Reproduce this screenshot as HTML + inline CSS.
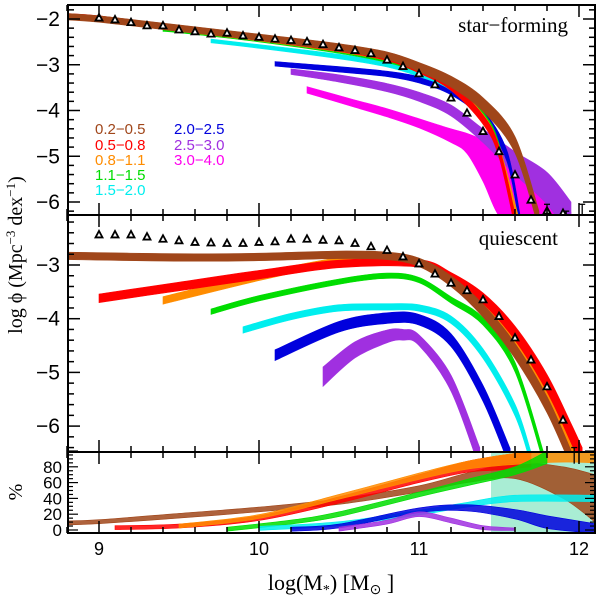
<!DOCTYPE html>
<html><head><meta charset="utf-8"><style>
body{margin:0;background:#fff}
svg{display:block}
text{font-family:"Liberation Sans",sans-serif}
.ser{font-family:"Liberation Serif",serif}
</style></head><body>
<svg id="chart" width="600" height="598" viewBox="0 0 600 598" xmlns="http://www.w3.org/2000/svg">
<defs>
<clipPath id="c1"><rect x="68" y="5" width="527" height="210"/></clipPath>
<clipPath id="c2"><rect x="68" y="215" width="527" height="237"/></clipPath>
<clipPath id="c3"><rect x="68" y="452" width="527" height="81"/></clipPath>
</defs>
<g id="g1" clip-path="url(#c1)"></g>
<g id="g2" clip-path="url(#c2)"></g>
<g id="g3" clip-path="url(#c3)"></g>
<g id="axes"></g>
<text class="ser" x="568" y="32" text-anchor="end" font-size="21">star−forming</text>
<text class="ser" x="558" y="245" text-anchor="end" font-size="21">quiescent</text>
<g font-size="15">
<text x="95" y="134" fill="#a0461a">0.2−0.5</text>
<text x="95" y="150" fill="#ff0000">0.5−0.8</text>
<text x="95" y="165" fill="#ff8c00">0.8−1.1</text>
<text x="95" y="180" fill="#00dd00">1.1−1.5</text>
<text x="95" y="195" fill="#00eeee">1.5−2.0</text>
<text x="174" y="134" fill="#0000dd">2.0−2.5</text>
<text x="174" y="150" fill="#a030e0">2.5−3.0</text>
<text x="174" y="165" fill="#ff00ee">3.0−4.0</text>
</g>
<text class="ser" transform="translate(22,255) rotate(-90)" text-anchor="middle" font-size="20">log ϕ (Mpc<tspan font-size="13" dy="-7">−3</tspan><tspan dy="7"> dex</tspan><tspan font-size="13" dy="-7">−1</tspan><tspan dy="7">)</tspan></text>
<text class="ser" transform="translate(22,492) rotate(-90)" text-anchor="middle" font-size="20">%</text>
<text class="ser" x="331" y="590" text-anchor="middle" font-size="22">log(M<tspan font-size="14" dy="4">*</tspan><tspan dy="-4">)  [M</tspan><tspan font-size="14" dy="4">⊙</tspan><tspan dy="-4"> ]</tspan></text>
</svg>
<script>
const NS="http://www.w3.org/2000/svg";
const colors=["#a0461a","#ff0000","#ff8c00","#00dd00","#00eeee","#0000dd","#a030e0","#ff00ee"];
const binNames=["0.2-0.5","0.5-0.8","0.8-1.1","1.1-1.5","1.5-2.0","2.0-2.5","2.5-3.0","3.0-4.0"];
// star-forming bands: mass, centre, half-width
const sfX=[
[8.8,9.0,9.5,10.0,10.5,10.8,11.0,11.2,11.4,11.6,11.75],
[8.8,9.0,9.5,10.0,10.5,10.8,11.0,11.2,11.4,11.5,11.6],
[9.0,9.5,10.0,10.5,10.8,11.0,11.2,11.4,11.5,11.62],
[9.4,9.5,10.0,10.5,10.8,11.0,11.2,11.4,11.5,11.6],
[9.7,10.0,10.5,10.8,11.0,11.2,11.4,11.5,11.62],
[10.1,10.5,10.8,11.0,11.2,11.4,11.55,11.63],
[10.2,10.5,10.8,11.0,11.2,11.4,11.6,11.8,11.95],
[10.3,10.6,10.8,11.0,11.2,11.3,11.4,11.5,11.6,11.8,11.95]];
const sfY=[
[-1.95,-2.0,-2.2,-2.4,-2.62,-2.8,-3.05,-3.37,-3.87,-4.75,-6.4],
[-1.93,-1.98,-2.2,-2.42,-2.66,-2.85,-3.12,-3.48,-4.2,-4.9,-6.4],
[-2.0,-2.22,-2.43,-2.67,-2.86,-3.1,-3.45,-4.15,-4.85,-6.4],
[-2.22,-2.25,-2.45,-2.7,-2.9,-3.12,-3.45,-4.1,-4.8,-6.4],
[-2.48,-2.6,-2.82,-3.0,-3.2,-3.5,-4.2,-4.9,-6.4],
[-2.98,-3.1,-3.2,-3.33,-3.58,-4.1,-5.0,-6.4],
[-3.15,-3.3,-3.5,-3.7,-4.0,-4.55,-5.15,-5.7,-6.4],
[-3.55,-3.85,-4.05,-4.28,-4.55,-4.72,-5.1,-5.6,-5.7,-5.9,-6.3]];
const sfW=[
[0.07,0.07,0.07,0.07,0.08,0.08,0.1,0.12,0.15,0.18,0.2],
[0.05,0.05,0.05,0.05,0.05,0.06,0.06,0.08,0.1,0.12,0.15],
[0.05,0.05,0.05,0.05,0.05,0.05,0.06,0.07,0.08,0.1],
[0.05,0.05,0.05,0.05,0.05,0.05,0.06,0.07,0.08,0.1],
[0.04,0.04,0.05,0.05,0.06,0.06,0.07,0.08,0.1],
[0.05,0.06,0.06,0.07,0.08,0.1,0.12,0.15],
[0.06,0.08,0.09,0.1,0.12,0.15,0.25,0.35,0.4],
[0.07,0.08,0.09,0.1,0.15,0.22,0.45,0.7,0.65,0.4,0.08]];
const sfTriX=[9.0,9.1,9.2,9.3,9.4,9.5,9.6,9.7,9.8,9.9,10.0,10.1,10.2,10.3,10.4,10.5,10.6,10.7,10.8,10.9,11.0,11.1,11.2,11.3,11.4,11.5,11.6,11.7,11.8,11.9];
const sfTriY=[-1.98,-2.02,-2.08,-2.15,-2.15,-2.24,-2.28,-2.33,-2.31,-2.37,-2.4,-2.44,-2.47,-2.5,-2.56,-2.63,-2.69,-2.76,-2.9,-3.04,-3.2,-3.44,-3.73,-4.06,-4.46,-4.9,-5.41,-5.96,-6.2,-6.25];
// quiescent bands
const qX=[
[8.8,9.5,10.0,10.5,10.8,11.0,11.2,11.4,11.6,11.8,11.95],
[9.0,9.5,10.0,10.5,11.0,11.2,11.4,11.6,11.8,11.95,12.02],
[9.4,10.0,10.5,10.8,11.0,11.2,11.4,11.6,11.8,11.97],
[9.7,10.0,10.5,10.8,11.0,11.2,11.4,11.6,11.78],
[9.9,10.2,10.5,10.8,11.0,11.2,11.4,11.6,11.7],
[10.1,10.5,10.8,11.0,11.2,11.4,11.57],
[10.4,10.6,10.8,10.9,11.0,11.2,11.38]];
const qY=[
[-2.83,-2.86,-2.85,-2.81,-2.83,-2.95,-3.3,-3.85,-4.6,-5.6,-6.6],
[-3.62,-3.4,-3.18,-2.98,-2.97,-3.22,-3.62,-4.27,-5.2,-6.13,-6.6],
[-3.66,-3.22,-2.92,-2.85,-2.95,-3.3,-3.82,-4.5,-5.5,-6.6],
[-3.87,-3.62,-3.31,-3.2,-3.28,-3.65,-4.05,-4.9,-6.6],
[-4.21,-3.96,-3.8,-3.78,-3.8,-4.02,-4.65,-5.7,-6.6],
[-4.68,-4.15,-3.99,-4.02,-4.4,-5.39,-6.6],
[-5.08,-4.58,-4.33,-4.3,-4.4,-5.2,-6.6]];
const qW=[
[0.07,0.07,0.07,0.07,0.07,0.08,0.1,0.12,0.14,0.15,0.15],
[0.08,0.08,0.08,0.07,0.07,0.08,0.1,0.13,0.16,0.18,0.2],
[0.07,0.07,0.06,0.06,0.07,0.08,0.1,0.12,0.14,0.15],
[0.05,0.05,0.05,0.05,0.05,0.06,0.07,0.09,0.1],
[0.06,0.06,0.06,0.06,0.06,0.07,0.09,0.11,0.12],
[0.1,0.1,0.1,0.1,0.12,0.15,0.18],
[0.18,0.15,0.12,0.1,0.1,0.15,0.2]];
const qTriX=[9.0,9.1,9.2,9.3,9.4,9.5,9.6,9.7,9.8,9.9,10.0,10.1,10.2,10.3,10.4,10.5,10.6,10.7,10.8,10.9,11.0,11.1,11.2,11.3,11.4,11.5,11.6,11.7,11.8,11.9];
const qTriY=[-2.44,-2.44,-2.44,-2.48,-2.52,-2.55,-2.58,-2.59,-2.6,-2.6,-2.58,-2.57,-2.52,-2.52,-2.54,-2.55,-2.6,-2.66,-2.73,-2.85,-2.98,-3.17,-3.34,-3.48,-3.65,-3.96,-4.36,-4.77,-5.27,-5.89];
// quiescent fractions (%)
const fX=[
[8.8,9.0,9.5,10.0,10.5,11.0,11.3,11.6,11.9,12.1],
[9.1,9.5,10.0,10.5,11.0,11.3,11.5,11.7],
[9.5,10.0,10.5,11.0,11.3,11.6,11.9,12.1],
[9.8,10.2,10.5,11.0,11.3,11.6,11.8],
[10.0,10.5,11.0,11.3,11.6,12.1],
[10.2,10.5,11.0,11.3,11.6,11.8,12.1],
[10.5,10.8,11.0,11.2,11.4,11.6]];
const fY=[
[9,10.5,18,26,36,52,66,75,60,40],
[3,5,15,38,65,80,85,90],
[5,17,42,68,82,90,94,95],
[1,10,20,45,60,75,92],
[2,8,22,32,40,40],
[1,5,25,28,20,10,2],
[1,10,20,12,3,1]];
const fW=[
[2.5,2.5,3,3,3.5,4,6,10,20,30],
[2.5,2.5,3,4,5,7,9,10],
[2.5,2.5,3,4,5,7,8,10],
[2.5,2.5,3,3,4,5,8],
[2.5,2.5,3,3,4,4],
[2.5,2.5,3,4,6,8,6],
[2.5,2.5,3,3,2.5,1.5]];

const X=m=>579-160*(12-m);
const Y1=v=>19+(-2-v)*45.75;
const Y2=v=>265+(-3-v)*53.7;
const Y3=p=>530-0.79*p;

function smooth(pts,start){
  let d=start?"M"+pts[0][0].toFixed(1)+","+pts[0][1].toFixed(1):"L"+pts[0][0].toFixed(1)+","+pts[0][1].toFixed(1);
  for(let i=0;i<pts.length-1;i++){
    const p0=pts[Math.max(0,i-1)],p1=pts[i],p2=pts[i+1],p3=pts[Math.min(pts.length-1,i+2)];
    const c1=[p1[0]+(p2[0]-p0[0])/6,p1[1]+(p2[1]-p0[1])/6];
    const c2=[p2[0]-(p3[0]-p1[0])/6,p2[1]-(p3[1]-p1[1])/6];
    d+=`C${c1[0].toFixed(1)},${c1[1].toFixed(1)} ${c2[0].toFixed(1)},${c2[1].toFixed(1)} ${p2[0].toFixed(1)},${p2[1].toFixed(1)}`;
  }
  return d;
}
function band(g,xs,ys,ws,Y,col,name,op){
  let up=[],lo=[];
  for(let i=0;i<xs.length;i++){up.push([X(xs[i]),Y(ys[i]+ws[i])]);lo.unshift([X(xs[i]),Y(ys[i]-ws[i])]);}
  const p=document.createElementNS(NS,"path");
  p.setAttribute("d",smooth(up,true)+smooth(lo,false)+"Z");
  p.setAttribute("fill",col);p.setAttribute("stroke",col);p.setAttribute("stroke-width","0.6");
  if(op)p.setAttribute("fill-opacity",op);
  
  
  g.appendChild(p);
}
function tri(g,x,y,name){
  const p=document.createElementNS(NS,"polygon");
  const cx=X(x),cy=y;
  p.setAttribute("points",`${cx},${cy-4} ${cx-3.5},${cy+2.5} ${cx+3.5},${cy+2.5}`);
  p.setAttribute("fill","#fff");p.setAttribute("stroke","#000");p.setAttribute("stroke-width","1.8");
  
  
  g.appendChild(p);
}
const g1=document.getElementById("g1"),g2=document.getElementById("g2"),g3=document.getElementById("g3");
for(let i=sfX.length-1;i>=0;i--) band(g1,sfX[i],sfY[i],sfW[i],Y1,colors[i],"sf-band-"+binNames[i]);
for(let i=0;i<sfTriX.length;i++) tri(g1,sfTriX[i],Y1(sfTriY[i]),"sf-total-point");
for(let i=qX.length-1;i>=0;i--) band(g2,qX[i],qY[i],qW[i],Y2,colors[i],"q-band-"+binNames[i]);
for(let i=0;i<qTriX.length;i++) tri(g2,qTriX[i],Y2(qTriY[i]),"q-total-point");
const hr=document.createElementNS(NS,"rect");
hr.setAttribute("x",X(11.45));hr.setAttribute("y",452);hr.setAttribute("width",595-X(11.45));hr.setAttribute("height",81);
hr.setAttribute("fill","#40d8a0");hr.setAttribute("fill-opacity","0.45");


g3.appendChild(hr);
for(let i=0;i<fX.length;i++) band(g3,fX[i],fY[i],fW[i],Y3,colors[i],"fraction-band-"+binNames[i],0.85);

const ax=document.getElementById("axes");
function line(x1,y1,x2,y2,w,name){
  const l=document.createElementNS(NS,"line");
  l.setAttribute("x1",x1);l.setAttribute("y1",y1);l.setAttribute("x2",x2);l.setAttribute("y2",y2);
  l.setAttribute("stroke","#000");l.setAttribute("stroke-width",w);
  
  
  ax.appendChild(l);
}
function txt(x,y,s,anchor,size,name){
  const t=document.createElementNS(NS,"text");
  t.setAttribute("x",x);t.setAttribute("y",y);t.setAttribute("text-anchor",anchor);t.setAttribute("font-size",size);
  t.textContent=s;
  
  
  ax.appendChild(t);
}
const fr=document.createElementNS(NS,"rect");
fr.setAttribute("x",68);fr.setAttribute("y",5);fr.setAttribute("width",527);fr.setAttribute("height",528);
fr.setAttribute("fill","none");fr.setAttribute("stroke","#000");fr.setAttribute("stroke-width","2");


ax.appendChild(fr);
line(68,215,595,215,2,"panel-divider");
line(68,452,595,452,2,"panel-divider");
const xEdges=[5,215,452,533];
for(let k=0;k<=16;k++){
  const m=8.8+0.2*k; if(m>12.1)break;
  const major=Math.abs(m-Math.round(m))<0.01, L=major?12:6, x=X(m);
  xEdges.forEach((e,ei)=>{
    if(ei<3) line(x,e,x,e+L,1.5,"x-tick");
    if(ei>0) line(x,e,x,e-L,1.5,"x-tick");
  });
}
const xTickLabels=["9","10","11","12"];
xTickLabels.forEach(s=>txt(X(+s),555,s,"middle",18,"x-tick-label"));
for(let v=-6.2;v<=-1.7;v+=0.2){
  const vv=Math.round(v*10)/10, major=Math.abs(vv-Math.round(vv))<0.01, y=Y1(vv);
  if(y<5||y>215)continue;
  line(68,y,68+(major?12:6),y,1.5,"y-tick");line(595,y,595-(major?12:6),y,1.5,"y-tick");
}
const sfTickLabels=["-2","-3","-4","-5","-6"];
sfTickLabels.forEach(s=>txt(60,Y1(+s)+7,s.replace("-","−"),"end",21,"sf-y-tick-label"));
for(let v=-6.4;v<=-2.0;v+=0.2){
  const vv=Math.round(v*10)/10, major=Math.abs(vv-Math.round(vv))<0.01, y=Y2(vv);
  if(y<215||y>452)continue;
  line(68,y,68+(major?12:6),y,1.5,"y-tick");line(595,y,595-(major?12:6),y,1.5,"y-tick");
}
const qTickLabels=["-3","-4","-5","-6"];
qTickLabels.forEach(s=>txt(60,Y2(+s)+7,s.replace("-","−"),"end",21,"q-y-tick-label"));
for(let p=0;p<=100;p+=5){
  const y=Y3(p), major=p%20==0;
  line(68,y,68+(major?10:5),y,1.2,"y-tick");line(595,y,595-(major?10:5),y,1.2,"y-tick");
}
const fTickLabels=["0","20","40","60","80"];
fTickLabels.forEach(s=>txt(62,Y3(+s)+6,s,"end",17,"fraction-y-tick-label"));
[[11.8,Y1(-6.05),Y1(-6.3)],[11.92,Y1(-6.2),Y1(-6.3)],[12.02,Y1(-6.05),Y1(-6.3)],[11.97,Y2(-6.4),Y2(-6.7)]].forEach(e=>{
  line(X(e[0]),e[1],X(e[0]),e[2],1.3,"error-bar");line(X(e[0])-3,e[1],X(e[0])+3,e[1],1.3,"error-bar-cap");
});
</script>
</body></html>
